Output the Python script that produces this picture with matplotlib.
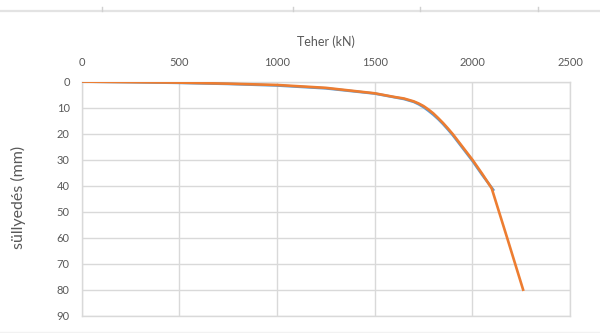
import matplotlib
matplotlib.use("Agg")
import matplotlib.pyplot as plt
from matplotlib.lines import Line2D

# Load-settlement measurements
load_a = [0, 250, 500, 750, 1000, 1250, 1500, 1600, 1650, 1700, 1725, 1750, 1775, 1800,
          1825, 1850, 1875, 1900, 1950, 2000, 2050, 2107]
settle_a = [0, 0.2, 0.5, 0.9, 1.5, 2.6, 4.6, 6.0, 6.7, 7.8, 8.7, 9.8, 11.2, 12.7,
            14.4, 16.3, 18.4, 20.6, 25.5, 30.4, 35.8, 41.6]

load_b = [0, 250, 500, 750, 1000, 1250, 1500, 1600, 1650, 1700, 1725, 1750, 1775, 1800,
          1825, 1850, 1875, 1900, 1950, 2000, 2050, 2099, 2180, 2260]
settle_b = [0, 0.2, 0.4, 0.8, 1.3, 2.4, 4.5, 5.9, 6.5, 7.6, 8.4, 9.4, 10.7, 12.2,
            14.0, 15.9, 18.0, 20.2, 25.1, 30.0, 35.4, 41.0, 60.5, 80.0]

x_ticks = [0, 500, 1000, 1500, 2000, 2500]
y_ticks = [0, 10, 20, 30, 40, 50, 60, 70, 80, 90]

plt.rcParams['font.family'] = ['Lato', 'DejaVu Sans']
grid_col = '#d9d9d9'
text_col = '#595959'

fig = plt.figure(figsize=(6.0, 3.33), dpi=100)
ax = fig.add_axes([0.136, 0.052, 0.814, 0.703])

ax.plot(load_a, settle_a, color='#5B9BD5', lw=1.9, solid_joinstyle='round', zorder=3)
ax.plot(load_b, settle_b, color='#ED7D31', lw=1.9, solid_joinstyle='round', zorder=4)

ax.set_xlim(0, 2500)
ax.set_ylim(90, 0)
ax.set_xticks(x_ticks)
ax.set_yticks(y_ticks)
ax.xaxis.tick_top()
ax.xaxis.set_label_position('top')
ax.tick_params(axis='x', length=0, pad=10, labelsize=8, labelcolor=text_col)
ax.tick_params(axis='y', length=0, pad=8.5, labelsize=8, labelcolor=text_col)
ax.grid(True, color=grid_col, lw=1.0)
ax.set_axisbelow(True)
for s in ax.spines.values():
    s.set_color(grid_col)
    s.set_linewidth(1.0)

ax.set_xlabel('Teher (kN)', fontsize=9, color=text_col, labelpad=8)
fig.text(0.03, 1 - 197 / 333, 'süllyedés (mm)', rotation=90, fontsize=11.5,
         color=text_col, ha='center', va='center')

# thin ruler line across the top with small tick marks
fig.add_artist(Line2D([0, 1], [1 - 11 / 333, 1 - 11 / 333], color='#e3e3e3', lw=1.6,
                      transform=fig.transFigure))
for px in [102, 293, 420, 538]:
    fig.add_artist(Line2D([px / 600, px / 600], [1 - 11 / 333, 1 - 7 / 333],
                          color='#d0d0d0', lw=1.0, transform=fig.transFigure))
fig.add_artist(Line2D([0, 1], [1 - 332 / 333, 1 - 332 / 333], color='#f2f2f2', lw=1.0,
                      transform=fig.transFigure))

fig.savefig('out.png', dpi=100)
